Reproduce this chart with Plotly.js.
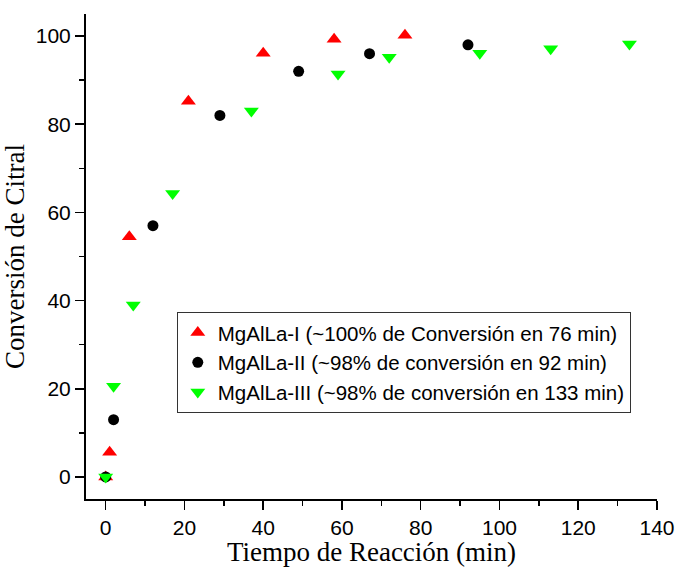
<!DOCTYPE html>
<html>
<head>
<meta charset="utf-8">
<script src="https://cdn.plot.ly/plotly-3.0.1.min.js"></script>
<style>html,body{margin:0;padding:0;background:#fff;}#chart{width:678px;height:567px;}</style>
</head>
<body>
<div id="chart"></div>
<script>
const seriesNames = [
  "MgAlLa-I (~100% de Conversión en 76 min)",
  "MgAlLa-II (~98% de conversión en 92 min)",
  "MgAlLa-III (~98% de conversión en 133 min)"
];
const timeI = [0, 1, 6, 21, 40, 58, 76];
const convI = [0, 5.6, 54.5, 85.2, 96.1, 99.3, 100.2];
const timeII = [0, 2, 12, 29, 49, 67, 92];
const convII = [0, 13.0, 57.0, 82.0, 92.0, 96.0, 98.0];
const timeIII = [0, 2, 7, 17, 37, 59, 72, 95, 113, 133];
const convIII = [0, 20.6, 39.0, 64.3, 83.0, 91.4, 95.2, 96.1, 97.1, 98.2];
const xTitle = "Tiempo de Reacción (min)";
const yTitle = "Conversión de Citral";

const traces = [
  {x: timeI, y: convI, name: seriesNames[0], type: "scatter", mode: "markers",
   marker: {symbol: "triangle-up", size: 13, color: "#ff0000"}},
  {x: timeII, y: convII, name: seriesNames[1], type: "scatter", mode: "markers",
   marker: {symbol: "circle", size: 11, color: "#000000"}},
  {x: timeIII, y: convIII, name: seriesNames[2], type: "scatter", mode: "markers",
   marker: {symbol: "triangle-down", size: 13, color: "#00ff00"}}
];

const axisCommon = {
  showgrid: false, zeroline: false, showline: true, linecolor: "#000", linewidth: 2,
  ticks: "outside", ticklen: 9, tickwidth: 1.5, tickcolor: "#000",
  tickfont: {family: "Liberation Sans, Arial, sans-serif", size: 21, color: "#000"},
  minor: {ticks: "outside", ticklen: 5, tickwidth: 1.5, tickcolor: "#000", dtick: 10}
};

const layout = {
  width: 678, height: 567,
  margin: {l: 86, r: 21, t: 14, b: 68},
  paper_bgcolor: "#fff", plot_bgcolor: "#fff",
  showlegend: true,
  xaxis: Object.assign({}, axisCommon, {
    range: [-5, 140], dtick: 20, tick0: 0,
    title: {text: xTitle, standoff: 6, font: {family: "Liberation Serif, Times New Roman, serif", size: 27, color: "#000"}}
  }),
  yaxis: Object.assign({}, axisCommon, {
    range: [-5, 105], dtick: 20, tick0: 0,
    title: {text: yTitle, standoff: 10, font: {family: "Liberation Serif, Times New Roman, serif", size: 27, color: "#000"}}
  }),
  legend: {
    x: 0.159, y: 0.386, xanchor: "left", yanchor: "top",
    bgcolor: "#fff", bordercolor: "#333", borderwidth: 1,
    font: {family: "Liberation Sans, Arial, sans-serif", size: 20.5, color: "#000"},
    itemwidth: 30, tracegroupgap: 0
  }
};

Plotly.newPlot("chart", traces, layout, {displayModeBar: false, staticPlot: true});
</script>
</body>
</html>
